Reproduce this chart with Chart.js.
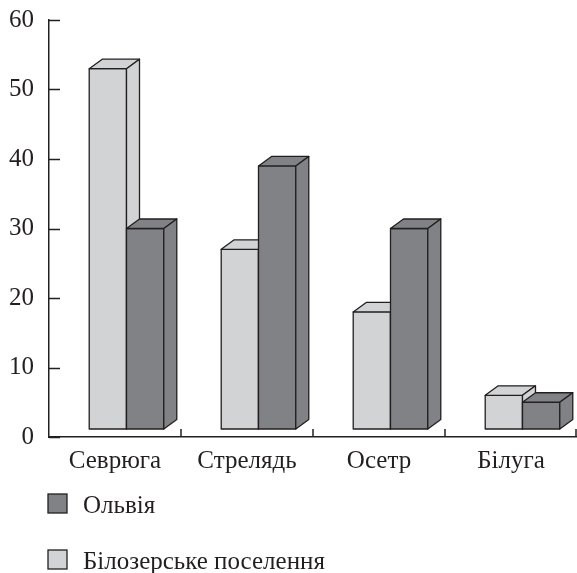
<!DOCTYPE html>
<html>
<head>
<meta charset="utf-8">
<script src="https://cdn.jsdelivr.net/npm/chart.js@4/dist/chart.umd.min.js"></script>
<style>
  html, body { margin: 0; padding: 0; background: #fff; }
  #wrap { width: 577px; height: 573px; }
</style>
</head>
<body>
<div id="wrap"><canvas id="myChart" width="577" height="573"></canvas></div>
<script>
// data
var categories = ['Севрюга', 'Стрелядь', 'Осетр', 'Білуга'];
var bilozerske = [53, 27, 18, 6];
var olvia = [30, 39, 30, 5];
var yMin = 0, yMax = 60, yStep = 10;

var seriesNames = ['Білозерське поселення', 'Ольвія'];
var seriesColors = ['#d1d3d4', '#808285'];
var legendOrder = [1, 0];

var ink = '#231f20';
var font = '"Liberation Serif", "DejaVu Serif", serif';
var fontSize = 25;
var depthX = 13, depthY = -9.5;
var barShift = 11.5;

// draw every bar as a box (front, top, side), left series first,
// instead of the library's flat bars
var boxPlugin = {
    id: 'box3d',
    beforeDatasetsDraw(chart) {
        var ctx = chart.ctx;
        ctx.save();
        ctx.translate(barShift, 0);
        ctx.strokeStyle = ink;
        ctx.lineWidth = 1.3;
        ctx.lineJoin = 'round';
        chart.data.datasets.forEach((ds, di) => {
            var meta = chart.getDatasetMeta(di);
            meta.data.forEach(bar => {
                var l = bar.x - bar.width / 2;
                var r = bar.x + bar.width / 2;
                var t = bar.y;
                var b = bar.base;
                ctx.fillStyle = ds.backgroundColor;
                // front
                ctx.beginPath();
                ctx.rect(l, t, r - l, b - t);
                ctx.fill();
                ctx.stroke();
                // top
                ctx.beginPath();
                ctx.moveTo(l, t);
                ctx.lineTo(l + depthX, t + depthY);
                ctx.lineTo(r + depthX, t + depthY);
                ctx.lineTo(r, t);
                ctx.closePath();
                ctx.fill();
                ctx.stroke();
                // side
                ctx.beginPath();
                ctx.moveTo(r, t);
                ctx.lineTo(r + depthX, t + depthY);
                ctx.lineTo(r + depthX, b + depthY);
                ctx.lineTo(r, b);
                ctx.closePath();
                ctx.fill();
                ctx.stroke();
            });
        });
        ctx.restore();
        return false;
    }
};

// inward tick marks and the legend list under the chart
var marksPlugin = {
    id: 'marks',
    afterDraw(chart) {
        var ctx = chart.ctx;
        var area = chart.chartArea;
        var ys = chart.scales.y;
        var xs = chart.scales.x;
        ctx.save();
        ctx.strokeStyle = ink;
        ctx.lineWidth = 1.5;
        ys.ticks.forEach(tk => {
            var py = Math.round(ys.getPixelForValue(tk.value)) + 0.5;
            ctx.beginPath();
            ctx.moveTo(area.left, py);
            ctx.lineTo(area.left + 11, py);
            ctx.stroke();
        });
        var w = (xs.right - xs.left) / categories.length;
        for (var k = 1; k <= categories.length; k++) {
            var px = Math.min(Math.round(xs.left + k * w), chart.width - 1);
            ctx.beginPath();
            ctx.moveTo(px, area.bottom);
            ctx.lineTo(px, area.bottom - 8);
            ctx.stroke();
        }

        ctx.font = fontSize + 'px ' + font;
        ctx.textBaseline = 'middle';
        ctx.textAlign = 'left';
        legendOrder.forEach((di, i) => {
            var ds = chart.data.datasets[di];
            var top = area.bottom + 57 + i * 56;
            ctx.fillStyle = ds.backgroundColor;
            ctx.fillRect(area.left - 1, top, 19, 19);
            ctx.lineWidth = 1.3;
            ctx.strokeRect(area.left - 1, top, 19, 19);
            ctx.fillStyle = ink;
            ctx.fillText(ds.label, area.left + 34, top + 12);
        });
        ctx.restore();
    }
};

function draw() {
    var ctx = document.getElementById('myChart').getContext('2d');
    var myChart = new Chart(ctx, {
        type: 'bar',
        data: {
            labels: categories,
            datasets: [{
                label: seriesNames[0],
                data: bilozerske,
                backgroundColor: seriesColors[0]
            },
            {
                label: seriesNames[1],
                data: olvia,
                backgroundColor: seriesColors[1]
            }]
        },
        options: {
            responsive: false,
            animation: false,
            layout: { padding: { top: 20, bottom: 96, left: 0, right: 0 } },
            datasets: {
                bar: {
                    base: 1.15,
                    borderColor: ink,
                    borderWidth: 1.3,
                    borderSkipped: false,
                    barPercentage: 1,
                    categoryPercentage: 0.565,
                    clip: false
                }
            },
            plugins: {
                legend: { display: false },
                tooltip: { enabled: false }
            },
            scales: {
                x: {
                    grid: { display: false, drawTicks: false },
                    border: { display: true, color: ink, width: 1.5 },
                    ticks: { color: ink, font: { family: font, size: fontSize }, padding: 9 },
                    afterFit(scale) { scale.height = 40; }
                },
                y: {
                    min: yMin,
                    max: yMax,
                    grid: { display: false, drawTicks: false },
                    border: { display: true, color: ink, width: 1.5 },
                    ticks: { stepSize: yStep, color: ink, font: { family: font, size: fontSize }, padding: 15 },
                    afterFit(scale) {
                        scale.width = 49;
                        scale.paddingTop = 0;
                        scale.paddingBottom = 0;
                    }
                }
            }
        },
        plugins: [boxPlugin, marksPlugin]
    });
}

document.fonts.load(fontSize + 'px "Liberation Serif"').then(draw, draw);
</script>
</body>
</html>
